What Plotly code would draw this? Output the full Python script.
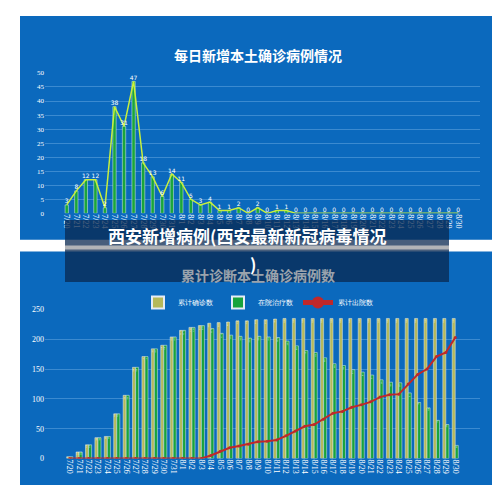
import plotly.graph_objects as go

dates = ["7/20","7/21","7/22","7/23","7/24","7/25","7/26","7/27","7/28","7/29","7/30","7/31",
         "8/1","8/2","8/3","8/4","8/5","8/6","8/7","8/8","8/9","8/10","8/11","8/12","8/13","8/14",
         "8/15","8/16","8/17","8/18","8/19","8/20","8/21","8/22","8/23","8/24","8/25","8/26","8/27",
         "8/28","8/29","8/30"]
daily = [3,8,12,12,2,38,31,47,18,13,6,14,11,5,3,4,1,1,2,0,2,0,1,1] + [0]*18
cumulative = [3,11,23,35,37,75,106,153,171,184,190,204,215,220,223,227,228,229,231,231,233,233,234,235,
              235,235,235,235,235,235,235,235,235,235,235,235,235,235,235,235,235,235]
hospital = [3,11,23,35,37,75,106,153,171,184,190,204,215,220,223,218,210,207,205,202,205,204,203,197,
            189,181,178,169,159,156,149,145,140,132,128,127,110,94,85,64,57,22]
discharged = [0]*15 + [5,12,18,21,24,28,29,31,38,46,54,57,66,76,79,86,90,95,103,107,108,125,141,150,171,178,203]

BLUE = "#0b69bd"
fig = go.Figure()
fig.add_bar(x=dates, y=daily, marker_color="#1aa63a", width=0.35, xaxis="x", yaxis="y", showlegend=False)
fig.add_scatter(x=dates, y=daily, mode="lines+text", text=[str(v) for v in daily], textposition="top center",
                textfont=dict(size=6, color="white", family="DejaVu Sans"), line=dict(color="#c8f03c", width=1.5),
                xaxis="x", yaxis="y", showlegend=False)
fig.add_bar(x=dates, y=cumulative, name="累计确诊数", marker_color="#b5b95a", xaxis="x2", yaxis="y2",
            text=cumulative, textposition="inside", insidetextanchor="end", textfont=dict(size=4, color="white"))
fig.add_bar(x=dates, y=hospital, name="在院治疗数", marker_color="#18a33c", xaxis="x2", yaxis="y2",
            text=hospital, textposition="inside", insidetextanchor="end", textfont=dict(size=4, color="white"))
fig.add_scatter(x=dates, y=discharged, name="累计出院数", mode="lines+markers", line=dict(color="#c0282a", width=2),
                marker=dict(size=3, color="#c0282a"), xaxis="x2", yaxis="y2")

ax = dict(domain=[0.074, 0.944], type="category", tickangle=90, tickmode="array", tickvals=dates, ticktext=dates,
          tickfont=dict(size=8, color="white", family="Liberation Serif"),
          showgrid=False, showline=False, ticks="")
fig.update_layout(
    width=500, height=485, margin=dict(l=0, r=0, t=0, b=0), paper_bgcolor="white", plot_bgcolor=BLUE,
    barmode="group", bargap=0.35, bargroupgap=0,
    xaxis=dict(**ax, anchor="y"),
    yaxis=dict(domain=[0.577, 0.872], range=[0, 50], dtick=5, gridcolor="#3b8ad0",
               tickfont=dict(size=7, color="white", family="Liberation Serif"), zeroline=False),
    xaxis2=dict(**ax, anchor="y2"),
    yaxis2=dict(domain=[0.062, 0.375], range=[0, 250], dtick=50, gridcolor="#3b8ad0",
                tickfont=dict(size=8, color="white", family="Liberation Serif"), zeroline=False),
    legend=dict(orientation="h", x=0.5, xanchor="center", y=1-296/485, yanchor="middle",
                font=dict(size=7, color="white"), bgcolor="rgba(0,0,0,0)", itemwidth=30, itemsizing="constant"),
    shapes=[
        dict(type="rect", xref="paper", yref="paper", x0=0.024, x1=0.98, y0=1-232/485, y1=1-4/485,
             fillcolor=BLUE, line=dict(width=0), layer="below"),
        dict(type="rect", xref="paper", yref="paper", x0=0.024, x1=0.98, y0=1-482/485, y1=1-244/485,
             fillcolor=BLUE, line=dict(width=0), layer="below"),
        dict(type="rect", xref="paper", yref="paper", x0=0.114, x1=0.882, y0=1-275/485, y1=1-212/485,
             fillcolor="rgba(10,40,80,0.75)", line=dict(width=0), layer="above"),
        dict(type="rect", xref="paper", yref="paper", x0=0.114, x1=0.882, y0=1-242/485, y1=1-238/485,
             fillcolor="rgba(190,190,190,0.9)", line=dict(width=0), layer="above"),
    ],
    annotations=[
        dict(text="<b>每日新增本土确诊病例情况</b>", x=0.5, y=1-32/485, xref="paper", yref="paper",
             showarrow=False, font=dict(size=14, color="white", family="Noto Sans CJK SC")),
        dict(text="<b>累计诊断本土确诊病例数</b>", x=0.5, y=1-268/485, xref="paper", yref="paper",
             showarrow=False, font=dict(size=14, color="#9aa3ad", family="Noto Sans CJK SC")),
        dict(text="<b>西安新增病例(西安最新新冠病毒情况</b>", x=0.478, y=1-228/485, xref="paper", yref="paper",
             showarrow=False, font=dict(size=17, color="white", family="Noto Sans CJK SC")),
        dict(text="<b>)</b>", x=0.49, y=1-256/485, xref="paper", yref="paper",
             showarrow=False, font=dict(size=17, color="white", family="Noto Sans CJK SC")),
    ],
)
fig.write_html("out.html")
